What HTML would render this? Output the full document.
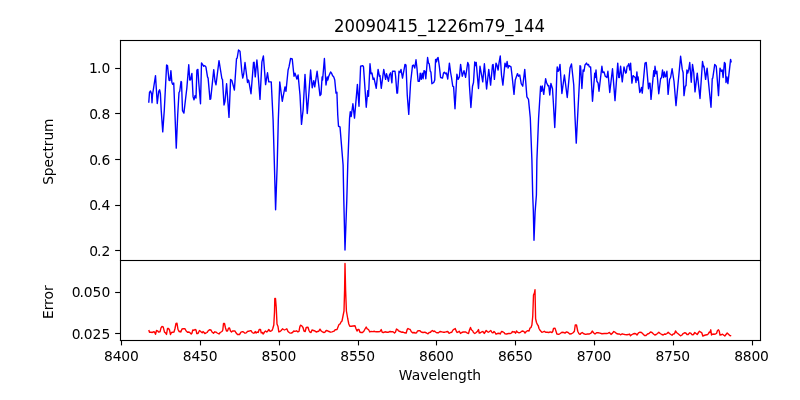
<!DOCTYPE html>
<html><head><meta charset="utf-8"><title>20090415_1226m79_144</title>
<style>
html,body{margin:0;padding:0;background:#fff;}
body{width:800px;height:400px;overflow:hidden;}
svg{display:block;}
text{font-family:"DejaVu Sans","Liberation Sans",sans-serif;fill:#000;}
.t10{font-size:13.889px;}
.t12{font-size:16.667px;}
.xt{letter-spacing:-0.2px;}
.ax{fill:#000;}
.ln{fill:none;stroke-width:1.39;stroke-linejoin:round;stroke-linecap:butt;}
</style></head><body>
<svg width="800" height="400" viewBox="0 0 800 400">
<rect x="0" y="0" width="800" height="400" fill="#fff"/>
<polyline class="ln" stroke="#0000ff" points="148.75,102.75 149.50,92.50 150.50,91.00 151.50,93.75 152.00,102.75 152.50,95.00 155.50,75.60 157.25,103.50 158.75,91.25 159.60,89.75 160.40,93.75 161.20,110.00 162.75,131.90 164.30,110.00 166.60,65.00 167.50,65.60 169.00,80.25 170.00,80.60 170.90,70.60 171.90,82.50 172.75,84.40 173.75,83.00 175.00,115.00 176.25,148.10 177.70,115.00 179.00,92.50 179.75,91.25 181.00,81.50 181.50,82.00 182.50,110.60 183.90,113.10 186.90,87.50 188.75,64.75 189.75,80.00 190.60,79.75 191.90,73.50 193.10,96.90 194.00,99.75 195.00,95.60 196.00,98.10 196.90,70.00 197.90,69.40 198.75,82.50 200.50,103.75 201.50,62.90 202.50,64.40 203.75,66.25 204.75,65.60 205.90,66.90 207.50,76.90 208.10,78.10 210.00,99.40 210.70,99.00 213.75,69.60 215.00,81.25 216.00,84.75 219.00,60.60 221.90,78.75 222.50,79.40 224.00,105.00 225.00,101.25 226.60,83.75 229.00,117.40 230.60,79.40 231.90,80.60 234.40,90.00 236.50,58.75 237.20,58.00 238.50,50.00 240.00,51.25 241.90,72.50 242.75,78.10 243.75,73.75 245.00,62.50 247.50,82.50 248.10,80.00 248.75,80.60 251.00,93.75 253.50,62.50 254.10,62.30 255.25,76.90 256.90,60.00 257.75,68.75 260.00,99.40 261.90,61.90 263.40,56.00 265.60,84.60 267.50,72.75 268.75,81.90 271.25,81.90 273.10,120.00 274.40,165.00 275.60,209.75 277.20,165.00 278.30,120.00 279.75,81.90 282.25,101.25 285.00,86.90 286.00,91.25 286.40,87.00 288.10,70.00 289.00,66.90 290.60,58.50 292.25,59.00 294.00,76.25 295.00,73.10 296.90,79.00 298.10,75.00 300.00,95.00 301.50,124.40 303.10,110.00 305.00,74.40 307.25,113.50 308.75,95.00 310.60,70.00 312.20,87.80 313.75,80.60 314.75,86.90 317.10,71.25 320.00,95.60 321.00,94.40 322.10,76.90 322.60,80.00 324.40,58.50 326.00,85.00 327.25,76.90 327.80,80.00 328.75,76.25 330.60,71.90 331.50,73.10 332.50,75.60 333.75,76.90 334.75,80.00 336.00,93.10 336.90,92.25 337.75,115.00 338.50,126.25 340.00,126.90 343.10,165.00 343.80,200.00 345.00,250.00 346.80,200.00 347.75,165.00 349.60,118.00 350.30,111.70 351.20,116.50 352.90,103.75 354.50,118.10 357.40,84.40 359.00,106.25 360.60,66.25 362.75,65.60 363.50,66.90 366.25,107.25 367.75,90.60 368.50,96.25 370.00,63.75 371.00,73.75 372.00,73.10 373.10,79.40 374.00,78.10 376.25,88.30 378.10,69.40 379.40,76.25 380.00,75.60 381.25,88.30 383.75,69.40 385.60,79.40 386.50,73.75 388.50,81.25 389.40,75.00 390.60,72.75 391.90,82.80 392.50,71.25 395.00,71.25 395.60,76.25 396.90,93.10 397.50,93.10 399.00,71.25 400.00,72.50 401.00,69.40 402.50,78.10 405.00,64.40 406.00,65.00 407.25,95.00 408.75,114.40 410.60,82.50 412.50,65.60 413.50,65.00 414.75,68.10 416.00,59.75 416.90,67.50 418.10,81.25 419.40,81.25 420.25,73.10 421.25,79.40 422.25,73.10 423.10,78.75 424.00,70.60 425.00,71.25 425.80,78.75 427.60,57.50 428.50,63.10 429.20,63.70 430.25,71.25 430.90,71.90 431.90,83.75 433.75,82.50 434.75,80.00 435.60,59.40 436.50,61.90 437.10,58.75 438.10,57.50 439.40,66.90 440.60,77.50 442.50,78.10 443.50,73.10 444.40,72.25 445.60,73.75 446.50,73.10 447.75,79.00 449.40,63.10 450.60,72.50 451.50,77.50 452.75,86.25 453.60,86.60 455.00,108.75 456.90,74.20 458.10,79.40 459.40,76.90 460.60,64.40 462.25,76.25 464.00,70.60 465.60,77.25 467.75,62.50 468.75,65.00 469.40,85.00 470.90,107.50 472.50,86.25 473.50,82.50 474.75,61.90 475.60,65.60 476.25,62.50 477.50,77.50 478.50,88.50 480.00,66.25 482.75,81.90 484.40,63.75 486.60,89.00 488.75,69.40 490.60,85.10 492.50,65.00 493.10,64.40 494.40,79.40 496.00,63.10 496.90,65.00 498.10,70.00 499.00,63.10 500.25,56.00 501.50,75.00 502.90,85.10 505.00,63.10 506.25,66.90 507.10,61.50 508.10,68.10 509.00,65.60 511.00,66.90 512.25,77.50 514.00,94.40 515.25,80.00 517.50,73.60 518.50,76.25 519.75,75.00 521.25,83.75 522.75,86.20 524.75,69.40 526.90,96.90 528.50,99.40 530.30,118.00 531.90,160.00 532.70,195.00 533.30,210.00 534.00,240.30 535.10,212.00 536.40,195.00 536.90,160.00 538.60,118.00 540.60,86.25 541.50,91.25 542.25,86.00 543.75,94.40 545.60,78.75 546.50,82.50 548.10,86.00 548.80,85.60 549.75,95.00 550.90,83.50 552.50,88.75 553.50,105.00 554.75,127.50 555.80,105.00 556.90,71.25 557.25,66.90 558.10,71.25 559.00,70.00 560.00,64.40 561.90,93.50 564.40,75.00 567.25,97.50 570.00,68.10 571.50,64.00 573.75,85.00 574.90,115.00 576.25,143.10 577.70,115.00 579.40,82.50 580.00,65.60 580.60,66.25 581.90,88.50 583.10,70.00 584.00,71.25 585.00,65.00 586.50,63.10 587.50,65.00 588.50,64.40 589.40,66.90 590.60,66.90 592.50,101.25 594.75,73.10 595.25,77.50 596.00,70.00 596.90,81.25 598.10,83.10 599.00,91.25 601.90,66.25 602.75,72.50 604.00,71.90 605.25,76.25 606.90,77.50 607.90,71.25 609.75,92.50 612.50,68.75 615.00,100.60 617.75,63.10 618.75,77.50 619.40,77.50 620.60,66.25 622.25,81.90 624.00,66.90 625.60,73.10 626.25,72.75 627.10,66.25 628.10,65.60 628.75,63.75 629.75,70.00 630.60,63.10 631.90,83.10 633.10,75.60 633.75,76.25 635.25,77.50 636.00,82.50 636.90,71.90 637.50,80.00 638.10,76.90 639.75,92.50 640.60,90.60 641.50,87.50 642.25,93.10 645.00,63.10 646.25,62.50 648.50,88.75 649.40,83.10 650.00,83.10 651.00,99.40 653.75,70.60 654.40,76.25 655.00,66.25 656.00,73.75 656.90,71.25 658.75,93.75 660.60,78.75 661.50,77.50 662.50,70.00 663.50,77.50 664.40,71.90 665.25,76.90 666.00,76.25 666.90,71.25 668.10,94.40 669.60,79.40 670.60,77.50 672.10,68.75 674.00,81.25 676.00,105.60 680.60,56.25 682.25,69.40 683.10,72.50 684.00,95.60 685.25,86.25 686.00,85.60 686.90,70.00 687.75,73.10 688.75,69.40 689.75,62.50 691.25,82.20 692.50,64.40 693.75,72.50 695.00,91.90 697.25,73.10 700.00,98.50 702.50,61.50 703.50,66.90 704.00,66.25 705.60,79.40 707.10,68.10 711.00,107.25 712.25,78.75 712.75,78.10 714.75,64.40 716.25,66.25 718.50,95.60 720.00,68.10 721.25,71.25 722.25,70.00 723.10,77.50 724.40,62.50 725.25,63.75 726.00,82.50 726.90,76.90 727.90,83.60 730.60,59.40 731.25,62.50"/>
<polyline class="ln" stroke="#ff0000" points="148.80,330.00 149.50,332.20 151.00,332.20 152.00,332.50 153.50,331.80 154.50,332.00 155.50,334.30 156.50,330.50 157.50,330.80 158.50,332.00 160.00,331.80 161.00,327.80 162.00,326.50 163.20,326.80 164.50,332.20 165.50,332.80 166.50,334.50 167.50,328.50 168.50,328.50 169.50,330.00 170.50,334.50 171.50,332.50 174.00,332.00 175.00,328.50 176.00,323.50 177.00,323.30 178.00,329.50 179.20,331.80 180.00,331.20 180.80,332.00 182.00,329.00 183.20,328.80 185.00,328.80 186.00,330.80 187.50,332.20 189.00,332.00 190.00,332.80 191.20,334.00 192.00,333.00 192.80,330.00 194.00,330.20 195.00,329.50 196.00,329.80 196.80,333.50 198.00,333.50 199.50,330.50 200.50,331.20 201.50,332.20 202.20,332.80 203.00,331.50 204.00,332.50 204.80,333.50 206.00,333.00 207.00,332.50 208.20,330.80 209.50,329.80 211.00,330.00 212.00,332.00 213.50,333.20 214.80,331.80 216.00,332.20 217.20,333.00 219.00,334.00 220.20,332.50 222.00,331.50 222.80,330.00 223.50,323.50 224.50,323.50 225.50,328.00 226.50,331.00 227.50,331.00 228.50,328.20 229.50,328.00 230.50,331.00 231.50,332.00 232.50,331.00 235.00,331.00 236.00,332.80 237.50,334.50 239.50,334.50 241.00,332.20 242.50,331.70 243.50,332.00 245.00,333.20 246.20,332.80 247.80,331.20 249.00,331.20 250.00,330.80 251.20,330.80 252.20,332.50 253.50,333.20 254.50,332.80 255.20,331.50 256.20,333.00 257.20,332.00 258.20,332.50 259.20,329.50 260.50,329.50 261.20,332.80 262.20,332.50 263.20,334.00 264.50,332.00 265.50,331.00 266.80,332.00 267.80,331.00 268.80,329.50 269.80,331.00 270.80,331.20 272.00,330.50 272.80,328.50 273.80,325.00 274.50,312.00 274.80,298.50 275.50,298.50 276.20,307.00 277.00,324.00 278.00,326.50 278.80,331.80 280.00,331.50 281.20,330.50 282.50,328.80 283.50,329.50 284.50,330.00 285.50,329.50 286.80,328.80 288.00,331.50 289.50,332.80 291.00,333.20 292.50,332.50 293.80,331.00 295.00,331.30 296.50,330.80 297.80,331.90 299.00,331.30 299.80,327.00 300.50,325.20 301.80,325.80 303.00,327.50 304.00,331.00 305.20,331.50 306.20,327.50 308.00,327.30 309.00,330.50 310.00,332.20 311.00,332.50 312.00,330.00 313.50,330.50 315.00,331.00 316.20,332.00 317.50,331.50 318.80,331.20 320.00,329.20 321.20,331.00 322.50,331.80 324.00,332.50 325.00,332.20 326.20,330.50 327.50,330.80 329.00,331.50 330.50,332.20 332.00,331.80 334.00,331.20 335.20,329.80 337.00,329.50 338.00,327.00 339.00,324.50 340.20,323.80 341.00,322.00 342.00,321.00 343.00,316.00 344.00,311.00 344.60,290.00 345.00,263.50 345.60,290.00 346.40,311.00 347.80,319.00 348.80,324.00 349.80,326.20 351.50,326.20 353.00,326.00 355.00,325.80 356.00,328.80 357.00,331.00 358.00,329.50 359.00,329.50 359.80,332.00 361.00,332.50 362.50,332.50 364.00,331.00 365.00,329.00 366.20,327.00 367.20,328.80 368.50,329.50 369.80,332.00 371.00,331.40 372.50,331.60 374.50,331.30 376.00,331.80 378.00,331.80 380.00,331.50 381.20,329.50 382.20,332.20 383.50,332.50 385.00,331.80 387.00,332.20 388.50,332.20 390.00,331.50 391.50,331.80 393.00,331.80 394.50,333.00 395.50,332.00 396.50,329.00 397.50,329.50 398.50,330.80 400.00,331.50 401.50,332.20 403.00,332.00 404.50,332.80 406.20,333.00 407.20,329.50 408.00,328.50 409.20,329.20 410.20,329.50 411.20,331.50 412.50,332.80 414.00,332.50 415.20,333.00 416.50,332.80 417.50,331.00 418.80,330.80 420.00,330.80 421.20,332.00 423.00,332.50 424.80,332.20 426.50,333.00 428.00,333.80 429.20,332.50 430.50,332.20 431.50,331.00 432.50,330.50 433.50,331.50 434.50,331.00 435.50,332.00 437.00,332.80 438.50,332.80 440.00,331.50 441.50,331.80 443.00,332.20 444.80,332.20 446.30,331.80 447.80,331.50 449.10,333.30 450.50,332.50 451.80,332.20 453.00,330.00 454.20,329.20 455.20,328.50 456.20,331.00 457.20,332.50 458.50,331.80 459.20,331.20 460.50,333.50 461.80,332.50 463.20,332.00 464.50,332.00 465.80,332.00 467.00,332.80 468.50,333.50 469.50,330.00 470.50,327.50 471.50,330.00 472.50,330.50 473.50,332.50 474.80,333.50 476.20,332.50 477.50,331.20 478.50,329.50 479.20,333.00 480.50,332.80 481.80,331.80 483.00,331.50 484.20,333.50 485.20,332.00 486.20,330.50 487.50,331.80 488.50,332.20 489.80,331.20 490.80,330.50 492.00,332.50 493.00,332.80 494.00,331.50 495.00,332.50 496.00,334.20 497.50,333.50 499.00,333.20 500.20,334.00 501.50,331.50 502.80,331.80 504.00,332.50 505.00,333.80 506.50,334.00 508.50,333.50 510.50,333.50 511.50,333.00 512.50,331.50 513.50,332.00 514.50,331.80 515.50,333.20 516.50,331.00 517.50,332.20 519.00,332.80 520.50,332.30 521.80,331.20 522.90,331.00 524.00,331.70 525.00,333.10 526.25,331.50 527.75,330.60 529.00,331.00 530.00,328.10 531.00,327.50 531.90,325.00 532.75,316.25 533.50,295.00 534.40,293.10 535.00,289.75 535.60,318.75 536.50,322.50 537.50,324.75 538.20,325.50 539.00,328.50 540.25,330.60 541.90,332.25 543.10,331.90 544.40,331.25 545.60,332.25 547.25,332.25 548.75,332.50 550.25,331.90 551.90,332.50 552.75,331.50 553.50,328.50 555.00,328.10 556.00,331.25 556.90,334.00 558.75,334.40 560.25,333.50 561.90,332.25 563.75,332.50 565.00,333.10 566.50,331.90 568.10,332.50 569.75,334.00 571.50,333.75 573.10,332.75 574.40,331.25 575.25,325.00 576.50,325.00 577.75,331.25 579.00,333.75 580.00,334.40 581.25,333.10 582.25,332.50 583.75,333.75 585.60,334.40 587.50,334.00 589.40,334.00 591.00,333.10 592.25,331.00 593.50,332.75 595.00,334.00 596.50,332.75 598.10,332.75 600.00,333.10 601.90,333.75 604.40,333.50 606.90,333.50 608.10,333.10 609.40,332.50 611.00,334.40 612.50,333.10 613.75,331.50 615.00,332.20 616.50,333.50 618.00,334.00 619.50,334.00 620.80,334.80 622.20,333.80 623.50,334.20 625.00,334.50 626.80,334.80 628.50,334.50 629.50,334.00 630.50,335.80 631.50,334.80 633.00,334.00 634.50,333.50 635.80,333.80 637.00,335.00 638.50,332.80 640.00,332.20 641.50,332.50 643.00,334.00 644.50,335.50 646.00,335.50 647.50,334.00 649.00,333.50 650.50,332.00 652.00,332.50 653.50,334.00 654.80,335.00 656.20,334.50 657.50,333.50 658.80,332.20 660.20,333.50 661.80,334.50 663.20,335.00 664.50,334.00 665.80,334.20 667.00,333.50 668.20,332.20 669.50,333.50 670.80,334.50 672.00,335.20 673.20,334.00 674.50,333.80 675.50,331.00 676.50,332.50 677.80,333.50 679.00,334.50 680.50,335.80 682.00,335.00 683.20,333.50 684.50,332.80 685.80,333.00 687.00,334.50 688.20,334.50 689.50,332.80 690.80,333.20 692.20,334.90 693.50,334.50 694.80,332.50 696.00,333.50 697.20,334.50 698.50,332.50 699.50,331.20 700.80,332.20 701.80,332.80 702.80,336.00 704.00,335.50 705.50,335.00 707.00,334.80 708.20,334.00 709.20,332.20 710.00,332.50 710.80,329.80 711.50,335.00 712.80,334.00 714.00,334.20 715.50,334.00 716.50,333.50 717.50,330.50 718.50,329.80 719.20,331.00 720.00,335.00 721.20,334.80 722.50,334.20 723.50,335.00 724.80,336.00 726.00,334.50 727.20,333.00 728.50,334.20 729.80,335.50 731.20,335.80"/>
<g class="ax">
<rect x="119.945" y="39.945" width="641.11" height="1.11"/>
<rect x="119.945" y="259.945" width="641.11" height="1.11"/>
<rect x="119.945" y="339.945" width="641.11" height="1.11"/>
<rect x="119.945" y="39.945" width="1.11" height="301.11"/>
<rect x="759.945" y="39.945" width="1.11" height="301.11"/>
<rect x="120.945" y="341" width="1.11" height="4.4"/>
<rect x="199.945" y="341" width="1.11" height="4.4"/>
<rect x="278.945" y="341" width="1.11" height="4.4"/>
<rect x="357.945" y="341" width="1.11" height="4.4"/>
<rect x="435.945" y="341" width="1.11" height="4.4"/>
<rect x="514.945" y="341" width="1.11" height="4.4"/>
<rect x="593.945" y="341" width="1.11" height="4.4"/>
<rect x="672.945" y="341" width="1.11" height="4.4"/>
<rect x="751.945" y="341" width="1.11" height="4.4"/>
<rect x="115.14" y="67.945" width="4.86" height="1.11"/>
<rect x="115.14" y="112.945" width="4.86" height="1.11"/>
<rect x="115.14" y="158.945" width="4.86" height="1.11"/>
<rect x="115.14" y="204.945" width="4.86" height="1.11"/>
<rect x="115.14" y="249.945" width="4.86" height="1.11"/>
<rect x="115.14" y="291.945" width="4.86" height="1.11"/>
<rect x="115.14" y="332.945" width="4.86" height="1.11"/>
</g>
<text class="t10 xt" x="121.30" y="361.3" text-anchor="middle">8400</text>
<text class="t10 xt" x="200.07" y="361.3" text-anchor="middle">8450</text>
<text class="t10 xt" x="278.84" y="361.3" text-anchor="middle">8500</text>
<text class="t10 xt" x="357.61" y="361.3" text-anchor="middle">8550</text>
<text class="t10 xt" x="436.38" y="361.3" text-anchor="middle">8600</text>
<text class="t10 xt" x="515.15" y="361.3" text-anchor="middle">8650</text>
<text class="t10 xt" x="593.92" y="361.3" text-anchor="middle">8700</text>
<text class="t10 xt" x="672.69" y="361.3" text-anchor="middle">8750</text>
<text class="t10 xt" x="751.46" y="361.3" text-anchor="middle">8800</text>
<text class="t10" x="89.01 97.05" y="72.90">1.0</text>
<text class="t10" x="89.21 97.05" y="118.90">0.8</text>
<text class="t10" x="89.21 97.05" y="164.90">0.6</text>
<text class="t10" x="89.21 97.05" y="209.90">0.4</text>
<text class="t10" x="89.21 97.05" y="255.90">0.2</text>
<text class="t10" x="71.84 79.38" y="296.90">0.050</text>
<text class="t10" x="71.84 79.38" y="338.90">0.025</text>
<text class="t12" transform="translate(439.5,31.8) scale(0.9915,1.05)" text-anchor="middle">20090415_1226m79_144</text>
<text class="t10" x="440" y="379.8" text-anchor="middle">Wavelength</text>
<text class="t10" transform="translate(53,151.7) rotate(-90) scale(0.985,1)" text-anchor="middle">Spectrum</text>
<text class="t10" transform="translate(53,302.2) rotate(-90)" text-anchor="middle">Error</text>
</svg>
</body></html>
